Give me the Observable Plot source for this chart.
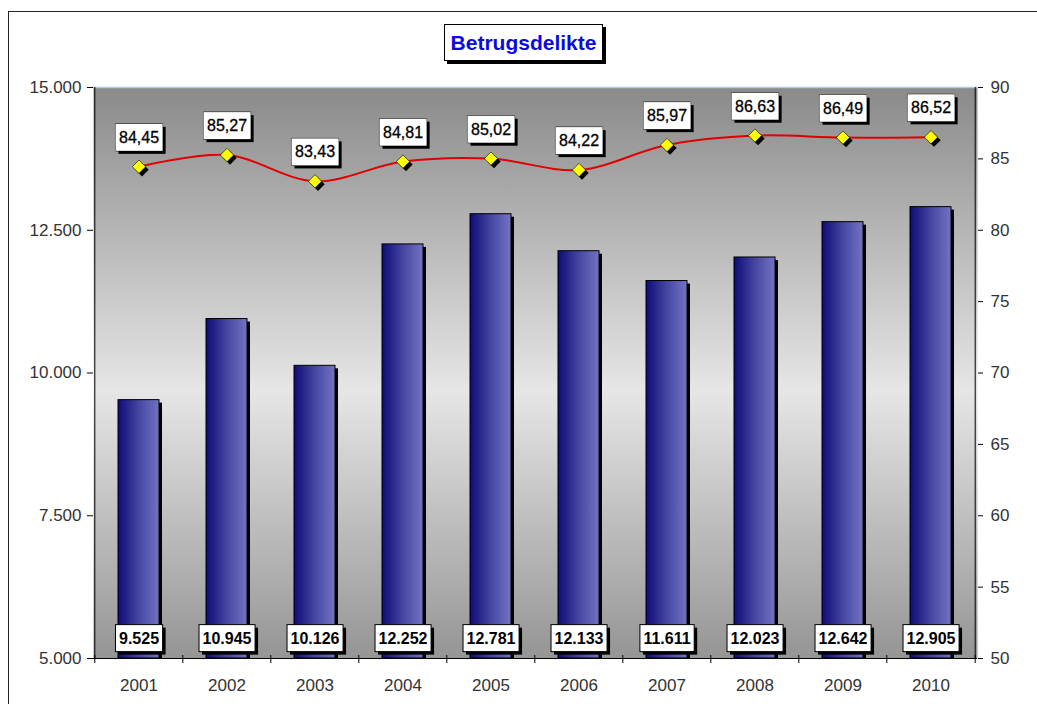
<!DOCTYPE html>
<html><head><meta charset="utf-8">
<script src="https://cdn.jsdelivr.net/npm/d3@7"></script>
<script src="https://cdn.jsdelivr.net/npm/@observablehq/plot@0.6"></script>
<style>
body{margin:0;background:#fff;overflow:hidden;}
#wrap{position:relative;width:1037px;height:704px;overflow:hidden;}
#border{position:absolute;left:8px;top:11px;width:1040px;height:720px;border:1px solid #222;}
#title{position:absolute;left:444px;top:24px;width:157px;height:35px;border:1px solid #000;box-shadow:3px 3px 0 #000;background:#fff;font:bold 21px "Liberation Sans",Arial,sans-serif;color:#0a0ae0;text-align:center;line-height:35px;}
#chart{position:absolute;left:0;top:0;}
</style></head>
<body><div id="wrap"><div id="border"></div><div id="chart"></div><div id="title">Betrugsdelikte</div></div>
<script>
const years = ["2001","2002","2003","2004","2005","2006","2007","2008","2009","2010"];
const cases = [9525, 10945, 10126, 12252, 12781, 12133, 11611, 12023, 12642, 12905];
const quota = [84.45, 85.27, 83.43, 84.81, 85.02, 84.22, 85.97, 86.63, 86.49, 86.52];
const leftTicks = [5000, 7500, 10000, 12500, 15000];
const rightTicks = [50, 55, 60, 65, 70, 75, 80, 85, 90];

// right axis (50..90) mapped onto left axis (5000..15000)
const toLeft = v => 5000 + (v - 50) * 250;
const toRight = d => (d - 5000) / 250 + 50;

const data = years.map((y, i) => ({year: y, cases: cases[i], quota: quota[i], qy: toLeft(quota[i])}));
const de = d3.formatLocale({decimal: ",", thousands: ".", grouping: [3], currency: ["", "€"]});
const fmtInt = de.format(",d");
const fmtDec = de.format(",.2f");

const W = 1037, H = 704, mL = 93, mR = 60, mT = 87, mB = 46;
const halfStep = (W - mL - mR) / years.length / 2;

const plot = Plot.plot({
  width: W, height: H, marginLeft: mL, marginRight: mR, marginTop: mT, marginBottom: mB,
  style: {fontFamily: "'Liberation Sans', Arial, sans-serif", fontSize: "17px", background: "transparent", color: "#222"},
  x: {domain: years, paddingInner: 0.53, paddingOuter: 0.265, label: null, axis: null},
  y: {domain: [5000, 15000], label: null, axis: null},
  marks: [
    Plot.frame({fill: "url(#bgGrad)", stroke: null}),
    Plot.ruleY([15000], {stroke: "#a8cce4", strokeWidth: 1.5}),
    // bar shadows
    Plot.barY(data, {x: "year", y1: 5000, y2: "cases", fill: "#000", dx: 3, dy: 3, insetBottom: 3}),
    Plot.barY(data, {x: "year", y1: 5000, y2: "cases", fill: "url(#barGrad)", stroke: "#000", strokeWidth: 1}),
    // axis lines
    Plot.ruleY([5000], {stroke: "#000", strokeWidth: 1}),
    Plot.ruleX([years[0]], {dx: -halfStep, y1: 5000, y2: 15000, stroke: "#000", strokeWidth: 1}),
    Plot.ruleX([years[years.length - 1]], {dx: halfStep, y1: 5000, y2: 15000, stroke: "#000", strokeWidth: 1}),
    // axes
    Plot.axisY(leftTicks, {anchor: "left", tickFormat: fmtInt, tickSize: 6, tickPadding: 6, stroke: "#000", fill: "#333"}),
    Plot.axisY(rightTicks.map(toLeft), {anchor: "right", tickFormat: toRight, tickSize: 5, tickPadding: 8, stroke: "#000", fill: "#333"}),
    Plot.axisX(years, {anchor: "bottom", tickSize: 0, tickPadding: 20, fill: "#333"}),
    Plot.axisX(years, {anchor: "bottom", tickSize: 8, dy: -3, dx: -halfStep, tickFormat: () => "", stroke: "#000"}),
    Plot.axisX([years[years.length - 1]], {anchor: "bottom", tickSize: 8, dy: -3, dx: halfStep, tickFormat: () => "", stroke: "#000"}),
    // line
    Plot.line(data, {x: "year", y: "qy", curve: "catmull-rom", stroke: "#e00000", strokeWidth: 2}),
    Plot.dot(data, {x: "year", y: "qy", symbol: "diamond2", r: 6, fill: "#000", stroke: "none", dx: 3, dy: 3}),
    Plot.dot(data, {x: "year", y: "qy", symbol: "diamond2", r: 6, fill: "#ffff00", stroke: "#000", strokeWidth: 0.6}),
    // labels
    Plot.text(data, {x: "year", y: "qy", text: d => fmtDec(d.quota), dy: -29, fontSize: 16, fill: "#000", stroke: "#000", strokeWidth: 0.3}),
    Plot.text(data, {x: "year", y: 5000, text: d => fmtInt(d.cases), dy: -20, fontSize: 16, fontWeight: "bold", fill: "#000"})
  ]
});

document.getElementById("chart").appendChild(plot);

const defs = d3.select(plot).insert("defs", ":first-child");
const bg = defs.append("linearGradient").attr("id", "bgGrad").attr("x1", 0).attr("y1", 0).attr("x2", 0).attr("y2", 1);
[[0, "#8a8a8a"], [0.53, "#e6e6e6"], [1, "#959595"]].forEach(([o, c]) => bg.append("stop").attr("offset", o).attr("stop-color", c));
const bar = defs.append("linearGradient").attr("id", "barGrad").attr("x1", 0).attr("y1", 0).attr("x2", 1).attr("y2", 0);
[[0, "#0c0c78"], [0.5, "#4545a2"], [1, "#7373c2"]].forEach(([o, c]) => bar.append("stop").attr("offset", o).attr("stop-color", c));

// label boxes behind data labels
const ns = "http://www.w3.org/2000/svg";
plot.querySelectorAll('g[aria-label="text"] > text').forEach(t => {
  const b = t.getBBox();
  const px = 3.5, py = 5;
  const mk = (off, fill, stroke) => {
    const r = document.createElementNS(ns, "rect");
    r.setAttribute("x", b.x - px + off);
    r.setAttribute("y", b.y - py + off);
    r.setAttribute("width", b.width + 2 * px);
    r.setAttribute("height", b.height + 2 * py);
    r.setAttribute("fill", fill);
    r.setAttribute("stroke", off ? "none" : stroke);
    r.setAttribute("stroke-width", 1);
    const tr = t.getAttribute("transform");
    if (tr) r.setAttribute("transform", tr);
    t.parentNode.insertBefore(r, t);
  };
  mk(3, "#000", "none");
  mk(0, "#fff", "#000");
});
</script>
</body></html>
